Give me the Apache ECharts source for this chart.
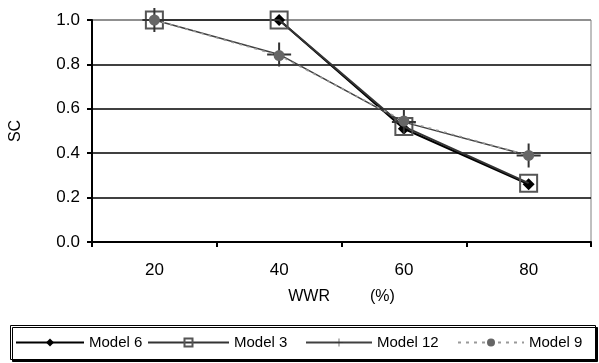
<!DOCTYPE html>
<html>
<head>
<meta charset="utf-8">
<style>html,body{margin:0;padding:0;background:#fff;}#c{width:599px;height:363px;}</style>
<script src="https://cdn.jsdelivr.net/npm/echarts@6/dist/echarts.min.js"></script>
</head>
<body>
<div id="c"></div>
<script>
const categories = ['20', '40', '60', '80'];
const model6 = [1.0, 1.0, 0.51, 0.26];
const model3 = [1.0, 1.0, 0.52, 0.265];
const model12 = [1.0, 0.845, 0.54, 0.39];
const model9 = [1.0, 0.84, 0.545, 0.39];
const yTicks = [0, 0.2, 0.4, 0.6, 0.8, 1.0];

const FONT = 'Liberation Sans, Arial, sans-serif';
const plusPath = 'path://M11,0H13V11H24V13H13V24H11V13H0V11H11Z';

const chart = echarts.init(document.getElementById('c'));
function legendAt(name, left, w) {
  return {
    data: [name], left: left, top: 335, padding: 0,
    itemWidth: w, itemHeight: 10, itemGap: 0,
    textStyle: { fontFamily: FONT, fontSize: 15, color: '#000' },
    selectedMode: false
  };
}
chart.setOption({
  animation: false,
  backgroundColor: '#fff',
  grid: { left: 91, right: 8, top: 20, bottom: 121, show: true, borderColor: '#808080', borderWidth: 1 },
  legend: [
    legendAt('Model 6', 15, 68),
    legendAt('Model 3', 147, 81),
    legendAt('Model 12', 305, 66),
    legendAt('Model 9', 457, 66)
  ],
  graphic: [{
    type: 'rect', left: 10, top: 325, z: -1,
    shape: { width: 585, height: 34 },
    style: { fill: '#fff', stroke: '#000', lineWidth: 1, shadowColor: '#000', shadowOffsetX: 2, shadowOffsetY: 2, shadowBlur: 0 }
  }],
  xAxis: {
    type: 'category', data: categories, boundaryGap: true,
    name: 'WWR         (%)', nameLocation: 'middle', nameGap: 47,
    nameTextStyle: { fontFamily: FONT, fontSize: 16, color: '#000' },
    axisLine: { lineStyle: { color: '#000', width: 2 } },
    axisTick: { show: true, length: 5, lineStyle: { color: '#000', width: 2 } },
    axisLabel: { fontFamily: FONT, fontSize: 17, color: '#000', margin: 20 },
    splitLine: { show: false }
  },
  yAxis: {
    type: 'value', min: 0, max: 1, interval: 0.2,
    name: 'SC', nameLocation: 'middle', nameGap: 68, nameRotate: 90,
    nameTextStyle: { fontFamily: FONT, fontSize: 16, color: '#000' },
    axisLine: { show: true, lineStyle: { color: '#000', width: 2 } },
    axisTick: { show: true, length: 5, lineStyle: { color: '#000', width: 2 } },
    axisLabel: { fontFamily: FONT, fontSize: 17, color: '#000', margin: 12,
      formatter: v => { const t = yTicks.find(x => Math.abs(x - v) < 1e-9); return (t === undefined ? v : t).toFixed(1); } },
    splitLine: { show: true, lineStyle: { color: ['#000', '#000', '#000', '#000', '#000', '#808080'], width: 1.5 } }
  },
  series: [
    { name: 'Model 6', type: 'line', data: model6, symbol: 'diamond', symbolSize: 12,
      lineStyle: { color: '#000', width: 2 }, itemStyle: { color: '#000' }, z: 2 },
    { name: 'Model 3', type: 'line', data: model3, symbol: 'rect', symbolSize: 17,
      lineStyle: { color: '#333', width: 2 },
      itemStyle: { color: 'rgba(0,0,0,0)', borderColor: '#555', borderWidth: 2 }, z: 3 },
    { name: 'Model 12', type: 'line', data: model12, symbol: plusPath, symbolSize: 24,
      lineStyle: { color: '#404040', width: 1.5 }, itemStyle: { color: '#333' }, z: 4 },
    { name: 'Model 9', type: 'line', data: model9, symbol: 'circle', symbolSize: 11,
      lineStyle: { color: '#999', width: 1.5, type: [3, 5] }, itemStyle: { color: '#666' }, z: 5 }
  ]
});
</script>
</body>
</html>
